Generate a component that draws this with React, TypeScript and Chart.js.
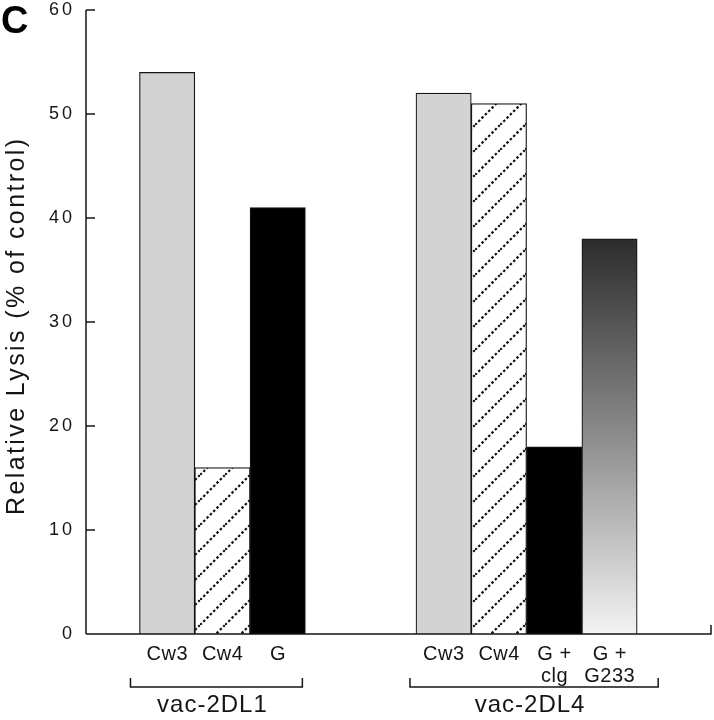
import React, { useEffect, useRef } from 'react';
import { Chart, registerables } from 'chart.js';

Chart.register(...registerables);

// ---- data ----
const group1Labels = ['Cw3', 'Cw4', 'G'];
const group1Values = [54, 16, 41];
const group1Fills = ['gray', 'hatch', 'black'];

const group2Labels = ['Cw3', 'Cw4', 'G +\nclg', 'G +\nG233'];
const group2Values = [52, 51, 18, 38];
const group2Fills = ['gray', 'hatch', 'black', 'gradient'];

const groupNames = ['vac-2DL1', 'vac-2DL4'];
const yTicks = [0, 10, 20, 30, 40, 50, 60];
const yTitle = 'Relative Lysis (% of control)';
const panelLetter = 'C';

// slot layout (category slots, empty slots between groups)
const GROUP1_START = 1;
const GROUP_GAP = 2;
const GROUP2_START = GROUP1_START + group1Labels.length + GROUP_GAP;
const X_MIN = -0.467;
const X_MAX = 10.835;

const FONT = '"Liberation Sans", Arial, Helvetica, sans-serif';
const INK = '#151515';

type Pt = { x: number; y: number; label: string; fill: string; group: number };

const points: Pt[] = [
  ...group1Labels.map((l, i) => ({ x: GROUP1_START + i, y: group1Values[i], label: l, fill: group1Fills[i], group: 0 })),
  ...group2Labels.map((l, i) => ({ x: GROUP2_START + i, y: group2Values[i], label: l, fill: group2Fills[i], group: 1 })),
];

function makeHatch(): CanvasPattern | string {
  const s = 25;
  const c = document.createElement('canvas');
  c.width = s;
  c.height = s;
  const g = c.getContext('2d');
  if (!g) return '#fff';
  g.fillStyle = '#ffffff';
  g.fillRect(0, 0, s, s);
  g.strokeStyle = '#111';
  g.lineWidth = 2.2;
  g.setLineDash([2.5, 2.2]);
  const seg = (x1: number, y1: number, x2: number, y2: number) => {
    g.beginPath();
    g.moveTo(x1, y1);
    g.lineTo(x2, y2);
    g.stroke();
  };
  seg(0, s, s, 0);
  seg(-2, 2, 2, -2);
  seg(s - 2, s + 2, s + 2, s - 2);
  const p = g.createPattern(c, 'repeat');
  return p || '#fff';
}

const bracketPad = [
  [-9, -3],
  [-6, 21],
];

const decor = {
  id: 'decor',
  afterDraw(chart: any) {
    const ctx: any = chart.ctx;
    const { left, right, bottom } = chart.chartArea;
    const xs = chart.scales.x;
    const ys = chart.scales.y;
    ctx.save();
    ctx.strokeStyle = INK;
    ctx.fillStyle = INK;
    ctx.lineWidth = 1.5;

    // y axis line
    const yTop = ys.getPixelForValue(yTicks[yTicks.length - 1]);
    ctx.beginPath();
    ctx.moveTo(left, yTop);
    ctx.lineTo(left, bottom);
    ctx.stroke();
    // inward ticks
    yTicks.forEach((v) => {
      if (v === 0) return;
      const py = ys.getPixelForValue(v);
      ctx.beginPath();
      ctx.moveTo(left, py);
      ctx.lineTo(left + 9, py);
      ctx.stroke();
    });
    // x axis line + end tick
    ctx.beginPath();
    ctx.moveTo(left, bottom);
    ctx.lineTo(right, bottom);
    ctx.lineTo(right, bottom - 9);
    ctx.stroke();

    // y tick labels
    ctx.font = `18px ${FONT}`;
    ctx.letterSpacing = '3px';
    ctx.textAlign = 'right';
    ctx.textBaseline = 'middle';
    yTicks.forEach((v) => {
      ctx.fillText(String(v), left - 11, ys.getPixelForValue(v));
    });

    // category labels
    ctx.font = `20px ${FONT}`;
    ctx.letterSpacing = '0.5px';
    ctx.textAlign = 'center';
    ctx.textBaseline = 'alphabetic';
    points.forEach((p) => {
      const cx = xs.getPixelForValue(p.x);
      p.label.split('\n').forEach((line, li) => {
        ctx.fillText(line, cx + 0.25, bottom + 26 + li * 22);
      });
    });

    // brackets and group labels
    [0, 1].forEach((gi) => {
      const gp = points.filter((p) => p.group === gi);
      const x1 = xs.getPixelForValue(gp[0].x - 0.5) + bracketPad[gi][0];
      const x2 = xs.getPixelForValue(gp[gp.length - 1].x + 0.5) + bracketPad[gi][1];
      const by = bottom + 53;
      ctx.lineWidth = 1.5;
      ctx.beginPath();
      ctx.moveTo(x1, by - 9);
      ctx.lineTo(x1, by);
      ctx.lineTo(x2, by);
      ctx.lineTo(x2, by - 9);
      ctx.stroke();
      ctx.font = `24px ${FONT}`;
      ctx.letterSpacing = '1px';
      ctx.textAlign = 'center';
      ctx.fillText(groupNames[gi], (x1 + x2) / 2 - 4, bottom + 78);
    });

    // y title
    ctx.save();
    ctx.font = `25px ${FONT}`;
    ctx.letterSpacing = '2.4px';
    ctx.textAlign = 'left';
    ctx.textBaseline = 'alphabetic';
    ctx.translate(24, bottom - 119);
    ctx.rotate(-Math.PI / 2);
    ctx.fillText(yTitle, 0, 0);
    ctx.restore();

    // panel letter
    ctx.font = `bold 38px ${FONT}`;
    ctx.letterSpacing = '0px';
    ctx.textAlign = 'left';
    ctx.textBaseline = 'alphabetic';
    ctx.fillStyle = '#000';
    ctx.fillText(panelLetter, 1, 33);

    ctx.restore();
  },
};

export default function App() {
  const ref = useRef<HTMLCanvasElement | null>(null);
  useEffect(() => {
    const canvas = ref.current;
    if (!canvas) return;
    const hatch = makeHatch();
    const fillFor = (c: any) => {
      const p = points[c.dataIndex];
      if (!p) return '#ccc';
      if (p.fill === 'gray') return '#d3d3d3';
      if (p.fill === 'black') return '#000';
      if (p.fill === 'hatch') return hatch;
      const chart = c.chart;
      const ys = chart.scales && chart.scales.y;
      if (!chart.chartArea || !ys) return '#888';
      const y0 = ys.getPixelForValue(p.y);
      const y1 = ys.getPixelForValue(0);
      const g = chart.ctx.createLinearGradient(0, y0, 0, y1);
      g.addColorStop(0, '#2c2c2c');
      g.addColorStop(0.5, '#8c8c8c');
      g.addColorStop(1, '#f3f3f3');
      return g;
    };
    const chart = new Chart(canvas, {
      type: 'bar',
      data: {
        datasets: [
          {
            data: points.map((p) => ({ x: p.x, y: p.y })),
            backgroundColor: fillFor as any,
            borderColor: INK,
            borderWidth: 1.2,
            categoryPercentage: 1,
            barPercentage: 1,
          } as any,
        ],
      },
      options: {
        animation: false,
        responsive: false,
        devicePixelRatio: 1,
        layout: { padding: { left: 86, right: 3, top: 10, bottom: 86 } },
        plugins: { legend: { display: false }, tooltip: { enabled: false } },
        scales: {
          x: {
            type: 'linear',
            display: false,
            offset: false,
            grid: { offset: false },
            min: X_MIN,
            max: X_MAX,
            afterBuildTicks: (s: any) => {
              const t = [];
              for (let v = 0; v <= 10; v++) t.push({ value: v });
              s.ticks = t;
            },
          },
          y: { display: false, min: 0, max: 60 },
        },
      } as any,
      plugins: [decor],
    });
    return () => chart.destroy();
  }, []);
  return (
    <div style={{ position: 'fixed', left: 0, top: 0, width: 714, height: 720, background: '#fff' }}>
      <canvas ref={ref} width={714} height={720} style={{ display: 'block' }} />
    </div>
  );
}
